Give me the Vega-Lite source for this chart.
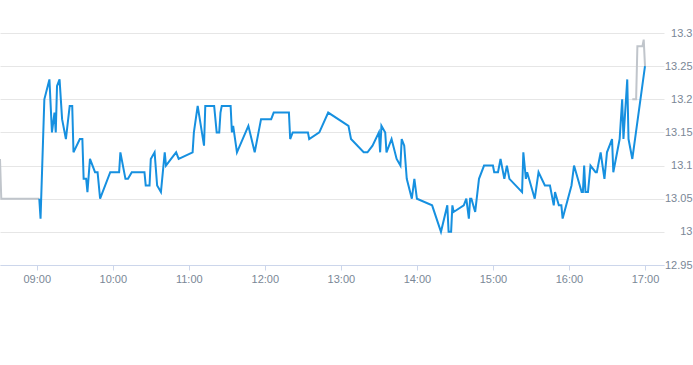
{
"$schema": "https://vega.github.io/schema/vega-lite/v6.json",
"width": 664, "height": 232,
"autosize": {"type": "none"},
"padding": {"left": 0, "top": 33, "right": 29, "bottom": 100},
"background": "white",
"config": {"view": {"stroke": null}, "font": "Liberation Sans"},
"data": {"values": [
{"t":"2024-01-02T08:31","p":13.11,"s":"pre"},{"t":"2024-01-02T08:32","p":13.05,"s":"pre"},{"t":"2024-01-02T09:02","p":13.05,"s":"pre"},
{"t":"2024-01-02T16:50","p":13.20,"s":"post"},{"t":"2024-01-02T16:53","p":13.20,"s":"post"},{"t":"2024-01-02T16:54","p":13.28,"s":"post"},{"t":"2024-01-02T16:58","p":13.28,"s":"post"},{"t":"2024-01-02T16:59","p":13.29,"s":"post"},{"t":"2024-01-02T17:00","p":13.25,"s":"post"},
{"t":"2024-01-02T09:02","p":13.05,"s":"regular"},{"t":"2024-01-02T09:03","p":13.02,"s":"regular"},{"t":"2024-01-02T09:06","p":13.20,"s":"regular"},{"t":"2024-01-02T09:10","p":13.23,"s":"regular"},{"t":"2024-01-02T09:12","p":13.15,"s":"regular"},{"t":"2024-01-02T09:14","p":13.18,"s":"regular"},{"t":"2024-01-02T09:15","p":13.15,"s":"regular"},{"t":"2024-01-02T09:16","p":13.22,"s":"regular"},{"t":"2024-01-02T09:18","p":13.23,"s":"regular"},{"t":"2024-01-02T09:20","p":13.17,"s":"regular"},{"t":"2024-01-02T09:23","p":13.14,"s":"regular"},{"t":"2024-01-02T09:26","p":13.19,"s":"regular"},{"t":"2024-01-02T09:28","p":13.19,"s":"regular"},{"t":"2024-01-02T09:29","p":13.12,"s":"regular"},{"t":"2024-01-02T09:34","p":13.14,"s":"regular"},{"t":"2024-01-02T09:36","p":13.14,"s":"regular"},{"t":"2024-01-02T09:37","p":13.08,"s":"regular"},{"t":"2024-01-02T09:39","p":13.08,"s":"regular"},{"t":"2024-01-02T09:40","p":13.06,"s":"regular"},{"t":"2024-01-02T09:42","p":13.11,"s":"regular"},{"t":"2024-01-02T09:46","p":13.09,"s":"regular"},{"t":"2024-01-02T09:48","p":13.09,"s":"regular"},{"t":"2024-01-02T09:50","p":13.05,"s":"regular"},{"t":"2024-01-02T09:58","p":13.09,"s":"regular"},
{"t":"2024-01-02T10:05","p":13.09,"s":"regular"},{"t":"2024-01-02T10:06","p":13.12,"s":"regular"},{"t":"2024-01-02T10:10","p":13.08,"s":"regular"},{"t":"2024-01-02T10:12","p":13.08,"s":"regular"},{"t":"2024-01-02T10:15","p":13.09,"s":"regular"},{"t":"2024-01-02T10:25","p":13.09,"s":"regular"},{"t":"2024-01-02T10:26","p":13.07,"s":"regular"},{"t":"2024-01-02T10:29","p":13.07,"s":"regular"},{"t":"2024-01-02T10:30","p":13.11,"s":"regular"},{"t":"2024-01-02T10:33","p":13.12,"s":"regular"},{"t":"2024-01-02T10:35","p":13.07,"s":"regular"},{"t":"2024-01-02T10:38","p":13.06,"s":"regular"},{"t":"2024-01-02T10:41","p":13.12,"s":"regular"},{"t":"2024-01-02T10:42","p":13.10,"s":"regular"},{"t":"2024-01-02T10:46","p":13.11,"s":"regular"},{"t":"2024-01-02T10:50","p":13.12,"s":"regular"},{"t":"2024-01-02T10:52","p":13.11,"s":"regular"},
{"t":"2024-01-02T11:03","p":13.12,"s":"regular"},{"t":"2024-01-02T11:04","p":13.15,"s":"regular"},{"t":"2024-01-02T11:07","p":13.19,"s":"regular"},{"t":"2024-01-02T11:12","p":13.13,"s":"regular"},{"t":"2024-01-02T11:13","p":13.19,"s":"regular"},{"t":"2024-01-02T11:20","p":13.19,"s":"regular"},{"t":"2024-01-02T11:22","p":13.15,"s":"regular"},{"t":"2024-01-02T11:24","p":13.15,"s":"regular"},{"t":"2024-01-02T11:25","p":13.18,"s":"regular"},{"t":"2024-01-02T11:26","p":13.19,"s":"regular"},{"t":"2024-01-02T11:33","p":13.19,"s":"regular"},{"t":"2024-01-02T11:34","p":13.15,"s":"regular"},{"t":"2024-01-02T11:35","p":13.16,"s":"regular"},{"t":"2024-01-02T11:38","p":13.12,"s":"regular"},{"t":"2024-01-02T11:47","p":13.16,"s":"regular"},{"t":"2024-01-02T11:52","p":13.12,"s":"regular"},{"t":"2024-01-02T11:57","p":13.17,"s":"regular"},
{"t":"2024-01-02T12:05","p":13.17,"s":"regular"},{"t":"2024-01-02T12:07","p":13.18,"s":"regular"},{"t":"2024-01-02T12:19","p":13.18,"s":"regular"},{"t":"2024-01-02T12:20","p":13.14,"s":"regular"},{"t":"2024-01-02T12:22","p":13.15,"s":"regular"},{"t":"2024-01-02T12:34","p":13.15,"s":"regular"},{"t":"2024-01-02T12:35","p":13.14,"s":"regular"},{"t":"2024-01-02T12:43","p":13.15,"s":"regular"},{"t":"2024-01-02T12:50","p":13.18,"s":"regular"},
{"t":"2024-01-02T13:06","p":13.16,"s":"regular"},{"t":"2024-01-02T13:08","p":13.14,"s":"regular"},{"t":"2024-01-02T13:18","p":13.12,"s":"regular"},{"t":"2024-01-02T13:21","p":13.12,"s":"regular"},{"t":"2024-01-02T13:25","p":13.13,"s":"regular"},{"t":"2024-01-02T13:30","p":13.15,"s":"regular"},{"t":"2024-01-02T13:31","p":13.12,"s":"regular"},{"t":"2024-01-02T13:32","p":13.16,"s":"regular"},{"t":"2024-01-02T13:35","p":13.15,"s":"regular"},{"t":"2024-01-02T13:36","p":13.12,"s":"regular"},{"t":"2024-01-02T13:40","p":13.14,"s":"regular"},{"t":"2024-01-02T13:44","p":13.11,"s":"regular"},{"t":"2024-01-02T13:47","p":13.10,"s":"regular"},{"t":"2024-01-02T13:48","p":13.14,"s":"regular"},{"t":"2024-01-02T13:50","p":13.13,"s":"regular"},{"t":"2024-01-02T13:52","p":13.08,"s":"regular"},{"t":"2024-01-02T13:56","p":13.05,"s":"regular"},{"t":"2024-01-02T13:58","p":13.08,"s":"regular"},
{"t":"2024-01-02T14:00","p":13.05,"s":"regular"},{"t":"2024-01-02T14:12","p":13.04,"s":"regular"},{"t":"2024-01-02T14:19","p":13.00,"s":"regular"},{"t":"2024-01-02T14:24","p":13.04,"s":"regular"},{"t":"2024-01-02T14:25","p":13.00,"s":"regular"},{"t":"2024-01-02T14:27","p":13.00,"s":"regular"},{"t":"2024-01-02T14:28","p":13.04,"s":"regular"},{"t":"2024-01-02T14:29","p":13.03,"s":"regular"},{"t":"2024-01-02T14:37","p":13.04,"s":"regular"},{"t":"2024-01-02T14:39","p":13.05,"s":"regular"},{"t":"2024-01-02T14:41","p":13.02,"s":"regular"},{"t":"2024-01-02T14:42","p":13.05,"s":"regular"},{"t":"2024-01-02T14:43","p":13.05,"s":"regular"},{"t":"2024-01-02T14:46","p":13.03,"s":"regular"},{"t":"2024-01-02T14:49","p":13.08,"s":"regular"},{"t":"2024-01-02T14:53","p":13.10,"s":"regular"},
{"t":"2024-01-02T15:00","p":13.10,"s":"regular"},{"t":"2024-01-02T15:01","p":13.09,"s":"regular"},{"t":"2024-01-02T15:04","p":13.09,"s":"regular"},{"t":"2024-01-02T15:06","p":13.11,"s":"regular"},{"t":"2024-01-02T15:09","p":13.08,"s":"regular"},{"t":"2024-01-02T15:11","p":13.10,"s":"regular"},{"t":"2024-01-02T15:13","p":13.08,"s":"regular"},{"t":"2024-01-02T15:23","p":13.06,"s":"regular"},{"t":"2024-01-02T15:24","p":13.12,"s":"regular"},{"t":"2024-01-02T15:26","p":13.08,"s":"regular"},{"t":"2024-01-02T15:27","p":13.09,"s":"regular"},{"t":"2024-01-02T15:33","p":13.05,"s":"regular"},{"t":"2024-01-02T15:36","p":13.09,"s":"regular"},{"t":"2024-01-02T15:41","p":13.07,"s":"regular"},{"t":"2024-01-02T15:45","p":13.07,"s":"regular"},{"t":"2024-01-02T15:48","p":13.04,"s":"regular"},{"t":"2024-01-02T15:49","p":13.06,"s":"regular"},{"t":"2024-01-02T15:52","p":13.04,"s":"regular"},{"t":"2024-01-02T15:54","p":13.04,"s":"regular"},{"t":"2024-01-02T15:55","p":13.02,"s":"regular"},
{"t":"2024-01-02T16:02","p":13.07,"s":"regular"},{"t":"2024-01-02T16:04","p":13.10,"s":"regular"},{"t":"2024-01-02T16:10","p":13.06,"s":"regular"},{"t":"2024-01-02T16:11","p":13.06,"s":"regular"},{"t":"2024-01-02T16:12","p":13.10,"s":"regular"},{"t":"2024-01-02T16:13","p":13.06,"s":"regular"},{"t":"2024-01-02T16:15","p":13.06,"s":"regular"},{"t":"2024-01-02T16:17","p":13.10,"s":"regular"},{"t":"2024-01-02T16:21","p":13.09,"s":"regular"},{"t":"2024-01-02T16:22","p":13.09,"s":"regular"},{"t":"2024-01-02T16:25","p":13.12,"s":"regular"},{"t":"2024-01-02T16:28","p":13.08,"s":"regular"},{"t":"2024-01-02T16:30","p":13.12,"s":"regular"},{"t":"2024-01-02T16:34","p":13.14,"s":"regular"},{"t":"2024-01-02T16:35","p":13.09,"s":"regular"},{"t":"2024-01-02T16:40","p":13.14,"s":"regular"},{"t":"2024-01-02T16:42","p":13.20,"s":"regular"},{"t":"2024-01-02T16:43","p":13.14,"s":"regular"},{"t":"2024-01-02T16:46","p":13.23,"s":"regular"},{"t":"2024-01-02T16:47","p":13.14,"s":"regular"},{"t":"2024-01-02T16:50","p":13.11,"s":"regular"},{"t":"2024-01-02T17:00","p":13.25,"s":"regular"}
]},
"encoding": {
  "x": {"field": "t", "type": "temporal",
    "scale": {"domain": [{"year": 2024, "month": 1, "date": 2, "hours": 8, "minutes": 31}, {"year": 2024, "month": 1, "date": 2, "hours": 17, "minutes": 15}]},
    "axis": {"title": null, "format": "%H:%M", "grid": false, "domainColor": "#ccd6eb", "tickColor": "#ccd6eb", "tickSize": 5, "labelColor": "#7a8796", "labelFontSize": 11, "labelPadding": 3, "labelFont": "Liberation Sans", "labelFlush": false, "labelOverlap": false,
      "values": [{"year": 2024, "month": 1, "date": 2, "hours": 9}, {"year": 2024, "month": 1, "date": 2, "hours": 10}, {"year": 2024, "month": 1, "date": 2, "hours": 11}, {"year": 2024, "month": 1, "date": 2, "hours": 12}, {"year": 2024, "month": 1, "date": 2, "hours": 13}, {"year": 2024, "month": 1, "date": 2, "hours": 14}, {"year": 2024, "month": 1, "date": 2, "hours": 15}, {"year": 2024, "month": 1, "date": 2, "hours": 16}, {"year": 2024, "month": 1, "date": 2, "hours": 17}]}},
  "y": {"field": "p", "type": "quantitative",
    "scale": {"domain": [12.95, 13.3], "nice": false, "zero": false},
    "axis": {"title": null, "orient": "right", "values": [12.95, 13, 13.05, 13.1, 13.15, 13.2, 13.25, 13.3], "format": ".2~f", "grid": true, "gridColor": "#e6e6e6", "domain": false, "ticks": false, "labelAlign": "right", "labelBaseline": "middle", "labelPadding": 28, "labelColor": "#7a8796", "labelFontSize": 11, "labelFont": "Liberation Sans", "labelFlush": false, "labelOverlap": false}}
},
"layer": [
  {"transform": [{"filter": "datum.s !== 'regular'"}], "mark": {"type": "line", "color": "#c0c5cb", "strokeWidth": 2}, "encoding": {"detail": {"field": "s"}}},
  {"transform": [{"filter": "datum.s === 'regular'"}], "mark": {"type": "line", "color": "#1690e0", "strokeWidth": 2}}
]
}
